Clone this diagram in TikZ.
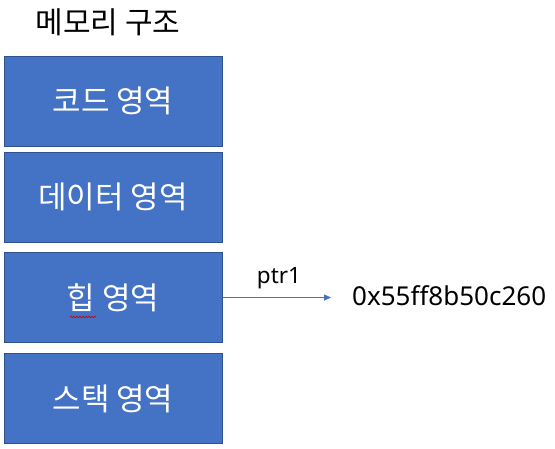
\documentclass[tikz,border=0pt]{standalone}
\usepackage{fontspec}
\setmainfont{Noto Sans}
\newfontfamily\kr{Noto Sans CJK KR}
\usetikzlibrary{arrows.meta,decorations.pathmorphing}
\definecolor{boxfill}{HTML}{4472C4}
\definecolor{boxline}{HTML}{2F528F}
\begin{document}
\begin{tikzpicture}[x=1pt,y=-1pt,
  membox/.style={draw=boxline,fill=boxfill,line width=1pt,minimum width=218pt,minimum height=90pt,inner sep=0pt,text=white,font=\kr\fontsize{31}{36}\selectfont},
  conn/.style={draw=boxfill,line width=0.8pt,-{Triangle[length=7pt,width=6pt]}}]
\useasboundingbox (0,0) rectangle (555,448);
\node[font=\kr\fontsize{30}{36}\selectfont] (title) at (108,22) {메모리 구조};
\node[membox] (code) at (113,101) {코드 영역};
\node[membox] (data) at (113,197) {데이터 영역};
\node[membox] (heap) at (113,297.5) {힙 영역};
\node[membox] (stack) at (113,398.5) {스택 영역};
\coordinate (tip) at (331,297.5);
\draw[conn] (heap.east) -- (tip);
\node[font=\fontsize{22.5}{26}\selectfont] (ptr) at (279,278) {ptr1};
\node[font=\fontsize{26}{30}\selectfont,anchor=west,inner sep=0pt] (addr) at (352,296) {0x55ff8b50c260};
\draw[red!80!black,line width=0.6pt,decorate,decoration={snake,amplitude=0.8pt,segment length=3pt}] (70,317) -- (96,317);
\end{tikzpicture}
\end{document}
